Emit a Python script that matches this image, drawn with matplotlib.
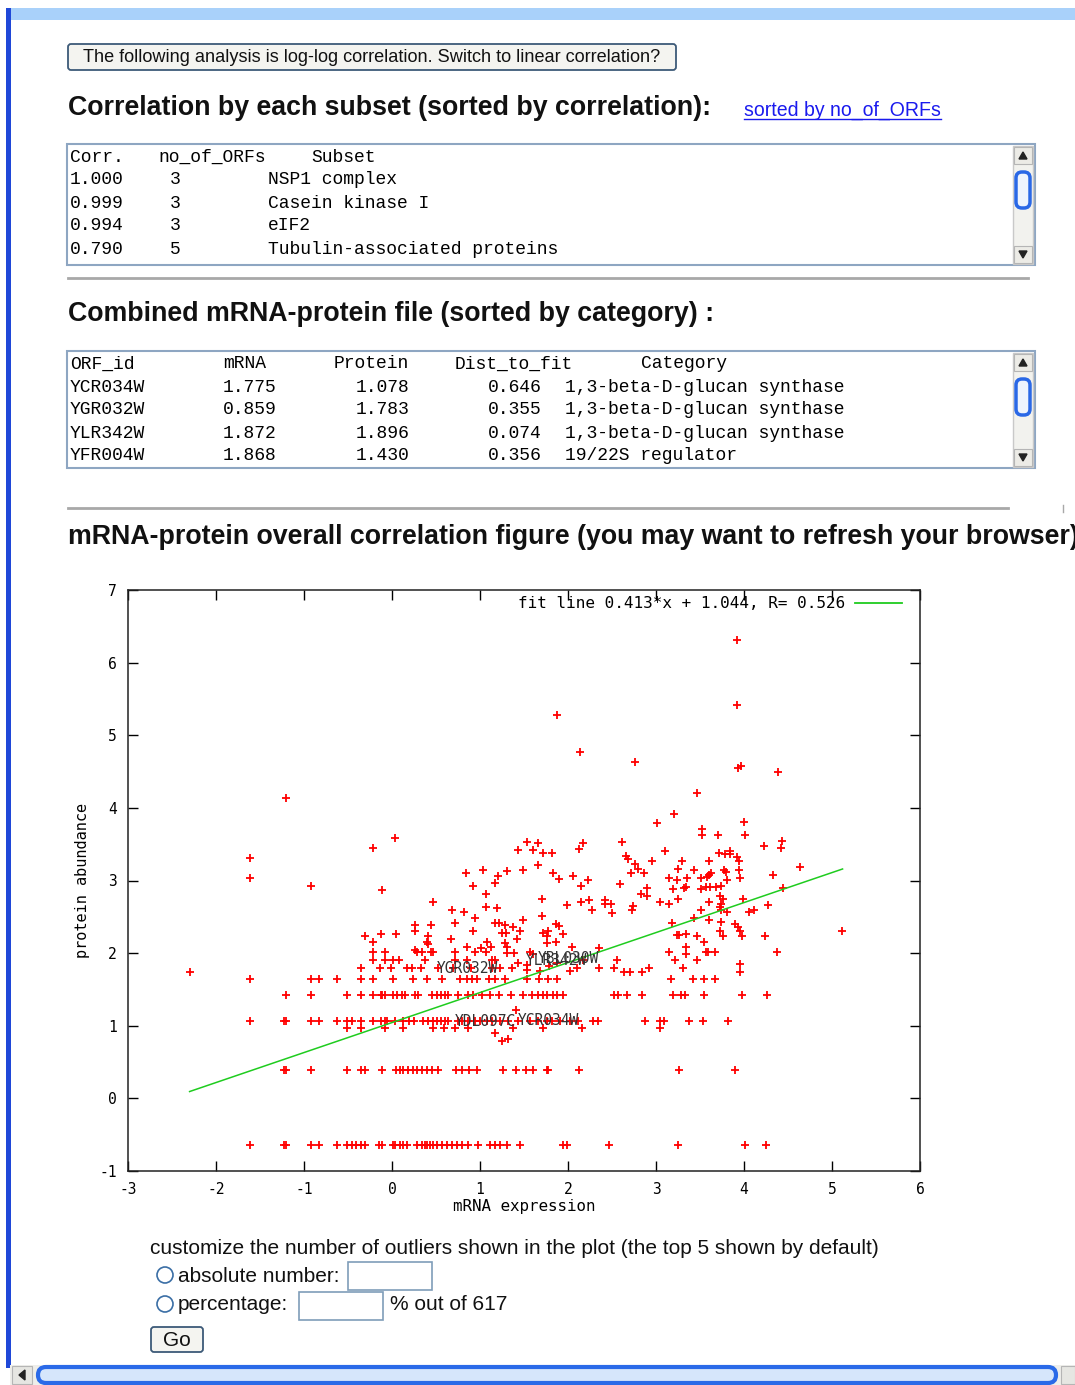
import matplotlib
matplotlib.use("Agg")
import matplotlib.pyplot as plt
from matplotlib.patches import Rectangle, FancyBboxPatch, Circle, Polygon
import numpy as np

plt.rcParams["axes.unicode_minus"] = False

# ---- table data ----
subset_corr = ["1.000", "0.999", "0.994", "0.790"]
subset_n = [3, 3, 3, 5]
subset_name = ["NSP1 complex", "Casein kinase I", "eIF2", "Tubulin-associated proteins"]

orf_id = ["YCR034W", "YGR032W", "YLR342W", "YFR004W"]
orf_mrna = [1.775, 0.859, 1.872, 1.868]
orf_protein = [1.078, 1.783, 1.896, 1.430]
orf_dist = [0.646, 0.355, 0.074, 0.356]
orf_cat = ["1,3-beta-D-glucan synthase"] * 3 + ["19/22S regulator"]

# ---- fit ----
fit_slope, fit_icpt, fit_r = 0.413, 1.044, 0.526
fit_xmin, fit_xmax = -2.30, 5.12

# ---- scatter: points that sit on the quantised protein levels ----
level_y = [-0.642, 0.385, 0.967, 1.064, 1.426, 1.646, 1.793, 1.907]
level_x = [
    [-1.61, -1.23, -1.20, -0.92, -0.83, -0.625, -0.515, -0.46, -0.405, -0.356, -0.31, -0.15, -0.11,
     0.015, 0.034, 0.091, 0.129, 0.167, 0.288, 0.337, 0.375, 0.40, 0.432, 0.47, 0.508, 0.564, 0.621,
     0.678, 0.735, 0.79, 0.867, 0.98, 1.114, 1.17, 1.227, 1.303, 1.455, 1.94, 1.985, 2.466, 3.246,
     4.01, 4.246],
    [-1.23, -1.20, -0.92, -0.515, -0.356, -0.31, -0.11, 0.05, 0.091, 0.129, 0.186, 0.235, 0.28, 0.337,
     0.394, 0.45, 0.527, 0.727, 0.792, 0.879, 0.97, 1.265, 1.409, 1.523, 1.606, 1.758, 1.777, 2.125,
     3.26, 3.90],
    [-0.515, -0.356, -0.076, 0.129, 0.47, 0.59, 0.716, 0.867, 1.379, 1.72, 2.155, 3.045],
    [-1.61, -1.23, -1.20, -0.92, -0.83, -0.625, -0.515, -0.46, -0.356, -0.216, -0.125, -0.083, -0.053,
     0.03, 0.121, 0.197, 0.25, 0.356, 0.413, 0.47, 0.508, 0.553, 0.602, 0.64, 0.754, 0.792, 0.867,
     0.943, 1.0, 1.076, 1.133, 1.227, 1.322, 1.436, 1.568, 1.663, 1.758, 1.814, 1.909, 2.023, 2.117,
     2.28, 2.345, 2.875, 3.05, 3.09, 3.375, 3.53, 3.82],
    [-1.20, -0.92, -0.515, -0.356, -0.216, -0.125, -0.11, -0.083, 0.015, 0.053, 0.11, 0.148, 0.261,
     0.299, 0.45, 0.508, 0.553, 0.602, 0.64, 0.754, 0.867, 0.917, 1.019, 1.114, 1.22, 1.348, 1.492,
     1.587, 1.663, 1.72, 1.758, 1.833, 1.871, 1.947, 2.523, 2.572, 2.667, 2.837, 3.197, 3.28, 3.33,
     3.545, 3.98, 4.26],
    [-1.61, -0.92, -0.83, -0.625, -0.356, -0.216, 0.015, 0.235, 0.394, 0.564, 0.773, 0.848, 0.905,
     0.97, 1.098, 1.174, 1.284, 1.53, 1.674, 1.769, 1.871, 3.167, 3.417, 3.545, 3.67],
    [-0.356, -0.14, -0.015, 0.174, 0.227, 0.326, 0.527, 0.693, 0.894, 1.136, 1.227, 1.36, 2.352,
     2.527, 2.924, 3.311],
    [-0.216, -0.083, 0.015, 0.076, 0.379, 0.716, 0.852, 1.136, 1.174, 2.167, 2.56, 3.22, 3.466],
]

# ---- scatter: the remaining points (mRNA, protein) ----
other_points = [
    (-1.20, 4.14), (-1.61, 3.31), (-1.61, 3.03), (-0.22, 3.45), (0.03, 3.58), (0.845, 3.10),
    (1.034, 3.14), (1.205, 3.06), (1.307, 3.13), (1.432, 3.42),
    (-2.30, 1.74), (-0.92, 2.93), (-0.11, 2.875), (-0.31, 2.24), (-0.125, 2.27), (0.04, 2.27),
    (-0.216, 2.15), (-0.216, 2.02), (-0.083, 2.01),
    (3.92, 6.31), (3.92, 5.41), (1.875, 5.28), (2.14, 4.77), (2.761, 4.63), (3.936, 4.55),
    (3.966, 4.57), (4.383, 4.50), (3.47, 4.20), (3.20, 3.92), (3.011, 3.79), (3.527, 3.71),
    (3.527, 3.62), (3.70, 3.62), (4.0, 3.81), (4.015, 3.62), (4.23, 3.47), (4.436, 3.55),
    (4.42, 3.45), (4.64, 3.18), (4.33, 3.08), (2.61, 3.53), (2.655, 3.34), (2.686, 3.29),
    (2.761, 3.23), (2.792, 3.16), (2.716, 3.10), (2.86, 3.10), (2.95, 3.27), (3.106, 3.40),
    (3.295, 3.27), (3.25, 3.16), (3.432, 3.14), (3.606, 3.27), (3.712, 3.38), (3.78, 3.365),
    (3.84, 3.40), (3.84, 3.365), (3.924, 3.32), (3.939, 3.27), (3.773, 3.14), (3.795, 3.12),
    (3.947, 3.14), (3.63, 3.10), (3.60, 3.07), (3.576, 3.05), (1.53, 3.53), (1.66, 3.51),
    (1.606, 3.42), (1.72, 3.38), (1.814, 3.38), (2.125, 3.43), (2.17, 3.51), (1.66, 3.21),
    (1.485, 3.14), (1.826, 3.10), (2.061, 3.06), (1.898, 3.02), (2.223, 3.01),
    (2.144, 2.92), (0.924, 2.93), (1.174, 2.97), (1.064, 2.81), (0.47, 2.71), (0.682, 2.60),
    (0.814, 2.56), (0.939, 2.49), (1.064, 2.64), (1.189, 2.62), (1.705, 2.75), (1.705, 2.51),
    (1.985, 2.66), (2.144, 2.71), (2.235, 2.73), (2.277, 2.60), (0.265, 2.39), (0.439, 2.39),
    (0.72, 2.42), (0.265, 2.30), (0.92, 2.30), (1.174, 2.42), (1.212, 2.42), (1.284, 2.39),
    (1.379, 2.36), (1.485, 2.46), (1.254, 2.28), (1.295, 2.28), (1.45, 2.30), (1.417, 2.20),
    (0.405, 2.24), (0.67, 2.20), (0.394, 2.15), (0.405, 2.12), (1.076, 2.155), (1.284, 2.146),
    (1.31, 2.09), (1.72, 2.28), (1.777, 2.30), (1.86, 2.40), (1.90, 2.38), (1.947, 2.265),
    (1.765, 2.24), (1.765, 2.14), (1.86, 2.155), (2.05, 2.08), (0.28, 2.01), (0.265, 2.04),
    (0.345, 2.01), (0.439, 2.01), (0.466, 2.01), (0.716, 2.01), (0.852, 2.08), (0.947, 2.01),
    (1.011, 2.07), (1.064, 2.01), (1.125, 2.09), (1.307, 2.00), (1.386, 2.00), (1.568, 2.01),
    (1.598, 1.99), (1.432, 1.87), (1.53, 1.84), (1.538, 1.77), (1.682, 1.76), (1.788, 1.82),
    (1.871, 1.87), (2.023, 1.76), (2.106, 1.80), (1.405, 1.22), (1.17, 0.90), (1.246, 0.79),
    (1.32, 0.82),
    (3.152, 3.035), (3.235, 3.01), (3.348, 3.035), (3.515, 3.035), (3.803, 3.01), (3.955, 3.035),
    (2.59, 2.95), (2.894, 2.90), (2.826, 2.82), (2.894, 2.78), (3.197, 2.88), (3.341, 2.91),
    (3.322, 2.89), (3.515, 2.88), (3.564, 2.91), (3.614, 2.91), (3.682, 2.91), (3.739, 2.93),
    (2.417, 2.73), (2.417, 2.68), (2.485, 2.68), (2.50, 2.55), (2.742, 2.655), (2.727, 2.595),
    (3.045, 2.71), (3.144, 2.68), (3.25, 2.75), (3.606, 2.71), (3.727, 2.78), (3.765, 2.75),
    (3.739, 2.68), (3.727, 2.63), (3.992, 2.75), (4.277, 2.66), (4.447, 2.90), (3.515, 2.595),
    (3.735, 2.59), (3.803, 2.56), (4.06, 2.56), (4.117, 2.595), (3.436, 2.485), (3.606, 2.46),
    (3.735, 2.425), (3.898, 2.40), (3.936, 2.36), (3.955, 2.30), (3.977, 2.24), (3.727, 2.30),
    (3.765, 2.24), (3.186, 2.42), (3.235, 2.25), (3.261, 2.25), (3.345, 2.265), (3.466, 2.24),
    (3.545, 2.15), (3.341, 2.08), (3.341, 1.99), (3.152, 2.01), (3.564, 2.01), (3.587, 2.01),
    (3.67, 2.02), (3.951, 1.85), (3.951, 1.74), (4.242, 2.24), (4.371, 2.02), (5.117, 2.30),
    (2.356, 2.07), (2.633, 1.74), (2.70, 1.74), (2.84, 1.74),
]

# outliers labelled in the plot
outlier_name = ["YGR032W", "YLR342W", "YBL030W", "YDL097C", "YCR034W"]
outlier_x = [0.859, 1.872, 2.00, 1.06, 1.775]
outlier_y = [1.783, 1.896, 1.92, 1.06, 1.078]

n_total = 617

# ---------------------------------------------------------------
W, H = 1075, 1385
fig = plt.figure(figsize=(W / 100, H / 100), dpi=100)
page = fig.add_axes([0, 0, 1, 1])
page.set_xlim(0, W)
page.set_ylim(H, 0)
page.axis("off")
renderer = fig.canvas.get_renderer()

SANS = "Liberation Sans"
MONO = "Liberation Mono"
GP = "DejaVu Sans Mono"


def fit_text(x, y, s, width, **kw):
    t = page.text(x, y, s, fontsize=12, **kw)
    w = t.get_window_extent(renderer).width
    t.set_fontsize(12 * width / w)
    return t


def scrollbar(y0, y1):
    page.add_patch(Rectangle((1013, y0), 20, y1 - y0, fc="#f2f2ee", ec="#c9c9c9", lw=1))
    for top in (y0 + 1, y1 - 18):
        page.add_patch(Rectangle((1014, top), 18, 17, fc="#ecebe6", ec="#b5b5b5", lw=0.8))
    page.add_patch(Polygon([(1019, y0 + 13), (1027, y0 + 13), (1023, y0 + 6)], color="#222"))
    page.add_patch(Polygon([(1019, y1 - 13), (1027, y1 - 13), (1023, y1 - 6)], color="#222"))
    page.add_patch(FancyBboxPatch((1016, y0 + 26), 14, 36, boxstyle="round,pad=0,rounding_size=6",
                                  fc="#eef4fd", ec="#2a68e6", lw=2.5))


# browser chrome
page.add_patch(Rectangle((10, 8), 1065, 12, fc="#a9d1fa", lw=0))
page.add_patch(Rectangle((6, 8), 5, 1360, fc="#1f48d8", lw=0))

# switch button
page.add_patch(FancyBboxPatch((68, 44), 608, 26, boxstyle="round,pad=0,rounding_size=3",
                              fc="#f4f4f0", ec="#3d5a78", lw=1.3))
fit_text(372, 57, "The following analysis is log-log correlation. Switch to linear correlation?",
         579, family=SANS, ha="center", va="center", color="#111")

# headings
h1 = fit_text(68, 108, "Correlation by each subset (sorted by correlation):", 640,
              family=SANS, weight="bold", va="center", color="#111")
hsize = h1.get_fontsize()
fit_text(744, 110, "sorted by no_of_ORFs", 197, family=SANS, va="center", color="#1a1aee")
page.plot([744, 941], [119, 119], color="#1a1aee", lw=1)

# subset table
page.add_patch(Rectangle((67, 144), 968, 121, fc="white", ec="#8ea6c2", lw=1.5))
MSIZE = 13
row_y = [157 + 23 * i for i in range(5)]
for x, s in [(70, "Corr."), (158, "no_of_ORFs"), (311, "Subset")]:
    page.text(x, row_y[0], s, family=MONO, fontsize=MSIZE, va="center")
for i in range(len(subset_corr)):
    page.text(70, row_y[i + 1], subset_corr[i], family=MONO, fontsize=MSIZE, va="center")
    page.text(170, row_y[i + 1], str(subset_n[i]), family=MONO, fontsize=MSIZE, va="center")
    page.text(268, row_y[i + 1], subset_name[i], family=MONO, fontsize=MSIZE, va="center")
scrollbar(146, 264)

page.plot([68, 1028], [278, 278], color="#a8a8a8", lw=2)

page.text(68, 314, "Combined mRNA-protein file (sorted by category) :", family=SANS,
          weight="bold", fontsize=hsize, va="center", color="#111")

# combined file table
page.add_patch(Rectangle((67, 351), 968, 117, fc="white", ec="#8ea6c2", lw=1.5))
row_y = [364 + 23 * i for i in range(5)]
for x, s in [(70, "ORF_id"), (223, "mRNA"), (334, "Protein"), (455, "Dist_to_fit"), (641, "Category")]:
    page.text(x, row_y[0], s, family=MONO, fontsize=MSIZE, va="center")
for i in range(len(orf_id)):
    y = row_y[i + 1]
    page.text(70, y, orf_id[i], family=MONO, fontsize=MSIZE, va="center")
    page.text(223, y, f"{orf_mrna[i]:.3f}", family=MONO, fontsize=MSIZE, va="center")
    page.text(356, y, f"{orf_protein[i]:.3f}", family=MONO, fontsize=MSIZE, va="center")
    page.text(488, y, f"{orf_dist[i]:.3f}", family=MONO, fontsize=MSIZE, va="center")
    page.text(565, y, orf_cat[i], family=MONO, fontsize=MSIZE, va="center")
scrollbar(353, 467)

page.plot([68, 1008], [508, 508], color="#a8a8a8", lw=2)
page.plot([1063, 1063], [505, 512], color="#a8a8a8", lw=1)

# the page is wider than the window here, so the heading runs past the right edge
page.text(68, 537, "mRNA-protein overall correlation figure (you may want to refresh your browser):",
          family=SANS, weight="bold", fontsize=hsize, va="center", color="#111")

# ---- the scatter plot ----
ax = fig.add_axes([128 / W, (H - 1171) / H, 792 / W, 581 / H])
ax.patch.set_alpha(0)
xs = np.concatenate([level_x[i] for i in range(len(level_y))] + [np.array(other_points)[:, 0]])
ys = np.concatenate([np.full(len(level_x[i]), level_y[i]) for i in range(len(level_y))]
                    + [np.array(other_points)[:, 1]])
ax.plot(xs, ys, linestyle="none", marker="+", ms=5.5, mew=1.3, color="#ff0000")

fx = np.array([fit_xmin, fit_xmax])
ax.plot(fx, fit_slope * fx + fit_icpt, color="#1fcc1f", lw=1.1)

for name, x, y in zip(outlier_name, outlier_x, outlier_y):
    ax.text(x, y, name, family=GP, fontsize=10.5, ha="center", va="center", color="#333")

# gnuplot-style key, top right inside the frame
fit_text(845, 603, f"fit line {fit_slope:.3f}*x + {fit_icpt:.3f}, R= {fit_r:.3f}", 326,
         family=GP, ha="right", va="center")
page.plot([855, 902], [603, 603], color="#1fcc1f", lw=1.3)

ax.set_xlim(-3, 6)
ax.set_ylim(-1, 7)
ax.set_xticks(range(-3, 7))
ax.set_yticks(range(-1, 8))
ax.tick_params(direction="in", top=True, right=True, length=7, width=1, pad=8, labelsize=10.5)
for lab in ax.get_xticklabels() + ax.get_yticklabels():
    lab.set_family(GP)
for sp in ax.spines.values():
    sp.set_linewidth(1.1)
    sp.set_color("#222")

fit_text(524, 1207, "mRNA expression", 143, family=GP, ha="center", va="center")
page.text(82, 880, "protein abundance", family=GP, fontsize=11, ha="center", va="center",
          rotation=90)

# ---- outlier form ----
b = fit_text(150, 1249, "customize the number of outliers shown in the plot (the top 5 shown by default)",
             730, family=SANS, va="center", color="#111")
bsize = b.get_fontsize()
for cy in (1275, 1304):
    page.add_patch(Circle((165, cy), 8, fc="white", ec="#3a6ea5", lw=1.2))
page.text(178, 1276, "absolute number:", family=SANS, fontsize=bsize, va="center", color="#111")
page.add_patch(Rectangle((348, 1262), 84, 28, fc="white", ec="#7f9db9", lw=1.2))
page.text(178, 1305, "percentage:", family=SANS, fontsize=bsize, va="center", color="#111")
page.add_patch(Rectangle((299, 1292), 84, 28, fc="white", ec="#7f9db9", lw=1.2))
page.text(390, 1305, f"% out of {n_total}", family=SANS, fontsize=bsize, va="center", color="#111")
page.add_patch(FancyBboxPatch((151, 1327), 52, 25, boxstyle="round,pad=0,rounding_size=3",
                              fc="#f4f4f0", ec="#3d5a78", lw=1.3))
page.text(177, 1340, "Go", family=SANS, fontsize=bsize, ha="center", va="center", color="#111")

# bottom scrollbar
page.add_patch(Rectangle((10, 1365), 1065, 20, fc="#eeeeea", lw=0))
page.add_patch(Rectangle((12, 1366), 20, 18, fc="#e6e6e2", ec="#b5b5b5", lw=0.8))
page.add_patch(Polygon([(25, 1370), (25, 1380), (19, 1375)], color="#222"))
page.add_patch(FancyBboxPatch((38, 1367), 1018, 16, boxstyle="round,pad=0,rounding_size=8",
                              fc="#d6e6fb", ec="#2a6ae8", lw=3))
page.add_patch(Rectangle((1061, 1366), 14, 18, fc="#e6e6e2", ec="#b5b5b5", lw=0.8))

fig.savefig("out.png", dpi=100)
